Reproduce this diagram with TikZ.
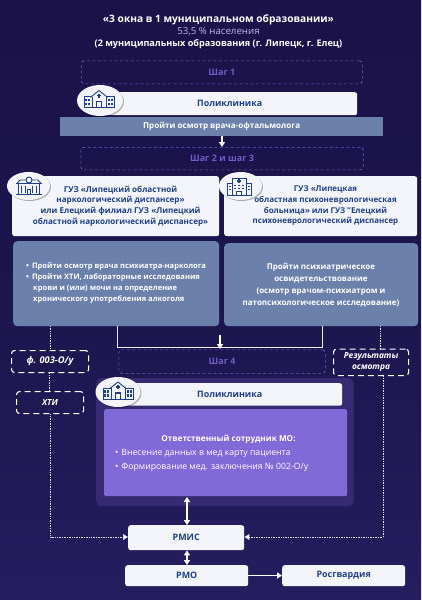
\documentclass[tikz,border=0pt]{standalone}
\usepackage{fontspec}
\setmainfont{Open Sans}
\usetikzlibrary{arrows.meta,shadows,calc,shapes.geometric}
\definecolor{bgtop}{HTML}{251D5E}
\definecolor{bgbot}{HTML}{1A1248}
\definecolor{stepc}{HTML}{6F5CC8}
\definecolor{bandc}{HTML}{6C80AC}
\definecolor{panelc}{HTML}{362B72}
\definecolor{purpc}{HTML}{7F6AD8}
\definecolor{navyc}{HTML}{1F3F86}
\definecolor{whitec}{HTML}{F4F5FA}
\tikzset{
 stepbox/.style={draw=stepc,dashed,dash pattern=on 3pt off 2.5pt,line width=.7pt,rounded corners=3pt,text=stepc,font=\bfseries\fontsize{9}{11}\selectfont},
 whitebox/.style={fill=whitec,rounded corners=2.5pt,text=navyc,font=\bfseries\fontsize{8.9}{10.6}\selectfont,align=center,inner sep=0pt},
 bluebox/.style={fill=bandc,rounded corners=4pt,text=white,inner sep=0pt},
 docbox/.style={draw=white,dash pattern=on 6pt off 4pt,line width=1.1pt,rounded corners=3pt,text=white,font=\bfseries\itshape\fontsize{8.4}{11}\selectfont,align=center,inner sep=0pt},
 iconc/.style={fill=whitec,draw=none,ellipse,drop shadow={shadow xshift=1pt,shadow yshift=-1pt,fill=black,opacity=.3}},
 dots/.style={draw=white!75!bandc,dash pattern=on 1pt off .7pt,line width=.7pt},
 solidl/.style={draw=white!85!bandc,line width=.8pt},
 arr/.style={draw=white,line width=1.2pt,-{Triangle[width=6pt,length=5pt]}},
 darr/.style={draw=white,line width=1.2pt,{Triangle[width=6pt,length=5pt]}-{Triangle[width=6pt,length=5pt]}},
 dotarr/.style={dots,-{Triangle[width=6pt,length=5pt,fill=white]}},
 lab/.style={text=white,inner sep=0pt},
}
\newcommand{\rct}[5][]{\node[#1,minimum width=#4-#2,anchor=north west,minimum height=#5-#3] at (#2,#3)}
\newcommand{\hospicon}[2]{%
 \begin{scope}[shift={(#1,#2)},draw=navyc,line width=.9pt]
  \draw (-7,-3) -- (-15,-3) -- (-15,8) -- (15,8) -- (15,-3) -- (7,-3);
  \draw (-8.5,-2.2) -- (0,-9) -- (8.5,-2.2);
  \draw (-7,-3) -- (-7,8) (7,-3) -- (7,8);
  \draw[line width=1.1pt] (-2,-4) -- (2,-4) (0,-6) -- (0,-2);
  \draw[line width=1.2pt] (-2.5,8) -- (-2.5,2) -- (2.5,2) -- (2.5,8);
  \foreach \x in {-12.8,-9.6,9.6,12.8}{
   \fill[navyc] (\x-1,-1) rectangle (\x+1,1.5);
   \fill[navyc] (\x-1,3) rectangle (\x+1,5.5);
  }
 \end{scope}}
\newcommand{\disicon}[2]{%
 \begin{scope}[shift={(#1,#2)},draw=navyc,line width=.9pt]
  \draw (-10.5,-2) rectangle (10.5,8.5);
  \draw (-13,-2) -- (13,-2);
  \draw (-12,-2) -- (-9,-5.5) -- (9,-5.5) -- (12,-2);
  \draw[fill=whitec] (0,-5.5) circle (3);
  \draw (-13,8.5) -- (13,8.5);
  \foreach \x in {-7.5,-3.5,3.5,7.5}{\draw[line width=1.1pt] (\x,0) -- (\x,7);}
  \draw (-1.5,8.5) rectangle (1.5,3.5);
 \end{scope}}
\newcommand{\clinicon}[2]{%
 \begin{scope}[shift={(#1,#2)},draw=navyc,line width=.9pt]
  \draw (-7,-8.5) rectangle (7,8.5);
  \draw (-7,-3) -- (-12,-3) -- (-12,8.5) -- (12,8.5) -- (12,-3) -- (7,-3);
  \draw[line width=1.1pt] (-2,-5.5) -- (2,-5.5) (0,-7.5) -- (0,-3.5);
  \foreach \x in {-4,0,4}{\draw[line width=1pt] (\x-1,-1) -- (\x+1,-1) (\x-1,2) -- (\x+1,2);}
  \foreach \x in {-9.5,9.5}{\draw[line width=1pt] (\x-1,0) -- (\x+1,0) (\x-1,3) -- (\x+1,3);}
  \draw (-2.5,8.5) rectangle (2.5,4.5);
 \end{scope}}
\begin{document}
\begin{tikzpicture}[x=1pt,y=-1pt]
\useasboundingbox (0,0) rectangle (421,600);
\shade[top color=bgbot,bottom color=bgtop,middle color=bgbot!75!bgtop] (0,0) rectangle (421,600);

% title
\node[text=white,font=\bfseries\fontsize{10.2}{11}\selectfont,inner sep=0pt] (t1) at (218.5,20) {«3 окна в 1 муниципальном образовании»};
\node[text=white!55!stepc,font=\fontsize{9.7}{11}\selectfont,inner sep=0pt] (t2) at (218.5,32) {53,5 \% населения};
\node[text=white,font=\bfseries\fontsize{9.1}{11}\selectfont,inner sep=0pt] (t3) at (218.5,44) {(2 муниципальных образования (г. Липецк, г. Елец)};

% step 1
\rct[stepbox]{81}{60.5}{362}{83.5} (s1) {Шаг 1};
\rct[whitebox]{105}{92}{357}{115} (p1) {\hspace*{-3pt}Поликлиника};
\node[iconc,minimum width=46pt,minimum height=31pt] (ic1) at (100,100.5) {};
\hospicon{99}{99.5}
\rct[fill=bandc,text=white,inner sep=0pt,font=\bfseries\fontsize{8.1}{10}\selectfont]{60}{117}{383}{136} (b1) {Пройти осмотр врача-офтальмолога};
\rct[stepbox]{80.5}{147}{363}{169.5} (s2) {Шаг 2 и шаг 3};
\draw[arr] (b1.south -| 222,136) -- (222,147);

% white institution boxes
\rct[whitebox]{12}{176}{219}{236} (g1) {};
\rct[whitebox]{224}{176}{417}{236} (g2) {};
\node[text=navyc,font=\bfseries\fontsize{8.1}{10.7}\selectfont,align=center,inner sep=0pt] (g1t) at (120.5,206) {ГУЗ «Липецкий областной\\наркологический диспансер»\\или Елецкий филиал ГУЗ «Липецкий\\областной наркологический диспансер»};
\node[text=navyc,font=\bfseries\fontsize{7.95}{10.7}\selectfont,align=center,inner sep=0pt] (g2t) at (325.5,206) {ГУЗ «Липецкая\\областная психоневрологическая\\больница» или ГУЗ "Елецкий\\психоневрологический диспансер};
\node[iconc,minimum width=43pt,minimum height=28pt] (ic2) at (28.5,186) {};
\disicon{29}{185.5}
\node[iconc,minimum width=43pt,minimum height=28pt] (ic3) at (240.5,186) {};
\clinicon{239}{186.5}

% blue boxes
\rct[bluebox]{13}{241}{219}{326} (d1) {};
\rct[bluebox]{224}{243}{418}{326} (d2) {};
\node[text=white,font=\bfseries\fontsize{7.55}{10.9}\selectfont,align=left,inner sep=0pt,anchor=west] (d1t) at (26,283) {•\hspace{3pt}Пройти осмотр врача психиатра-нарколога\\•\hspace{3pt}Пройти ХТИ, лабораторные исследования\\\hspace*{7pt}крови и (или) мочи на определение\\\hspace*{7pt}хронического употребления алкоголя};
\node[text=white,font=\bfseries\fontsize{8}{12.2}\selectfont,align=center,inner sep=0pt] (d2t) at (321,285) {Пройти психиатрическое\\освидетельствование\\(осмотр врачом-психиатром и\\патопсихологическое исследование)};

% document boxes
\rct[docbox,font=\bfseries\itshape\fontsize{9.3}{11}\selectfont]{11}{350}{88}{372} (f) {ф. 003-О/у};
\rct[docbox]{16}{391}{83}{413} (x) {ХТИ};
\rct[docbox]{333}{348.5}{408}{375} (r) {Результаты\\осмотра};
\rct[stepbox]{118.5}{349.5}{325}{373} (s4) {Шаг 4};

% connectors upper
\coordinate (j1) at (117,326);
\coordinate (j2) at (322,326);
\draw[solidl] (j1) -- (117,347) -- (322,347) -- (j2);
\draw[arr] (220,334.5) -- (220,349);
\draw[dots] (50,326) -- (f.north -| 50,350);
\draw[dots] (380.5,326) -- (380.5,348.5);
\draw[dots] (f.south -| 49.5,372) -- (x.north -| 49.5,391);

% panel
\rct[fill=panelc,rounded corners=5pt]{96}{378}{353.5}{506} (pan) {};
\rct[fill=purpc,rounded corners=1.5pt,inner sep=0pt]{104}{409}{347}{496} (pur) {};
\rct[whitebox]{120}{383}{342}{405.5} (p2) {\hspace*{-3pt}Поликлиника};
\node[iconc,minimum width=45pt,minimum height=30pt] (ic4) at (118,392) {};
\hospicon{118}{391}
\node[lab,font=\bfseries\fontsize{8.2}{10}\selectfont] (pt) at (228.5,439.5) {Ответственный сотрудник МО:};
\node[lab,anchor=west,font=\fontsize{8.7}{10}\selectfont] (pa) at (115,453) {•\hspace{3pt}Внесение данных в мед карту пациента};
\node[lab,anchor=west,font=\fontsize{8.7}{10}\selectfont] (pb) at (115,467.5) {•\hspace{3pt}Формирование мед. заключения № 002-О/у};

% bottom boxes
\rct[whitebox]{128}{525}{244}{550} (rmis) {РМИС};
\rct[whitebox]{125}{565}{248}{586} (rmo) {РМО};
\rct[whitebox]{282}{565}{405}{586} (rg) {Росгвардия};
\draw[darr] (187,497) -- (rmis.north -| 187,525);
\draw[darr] (rmis.south -| 187,550) -- (rmo.north -| 187,565);
\draw[arr] (rmo.east |- 0,575.5) -- (rg.west |- 0,575.5);
\draw[dotarr] (x.south -| 50.5,413) -- (50.5,537) -- (rmis.west |- 0,537);
\draw[dotarr] (r.south -| 383,375) -- (383,537) -- (rmis.east |- 0,537);
\end{tikzpicture}
\end{document}
